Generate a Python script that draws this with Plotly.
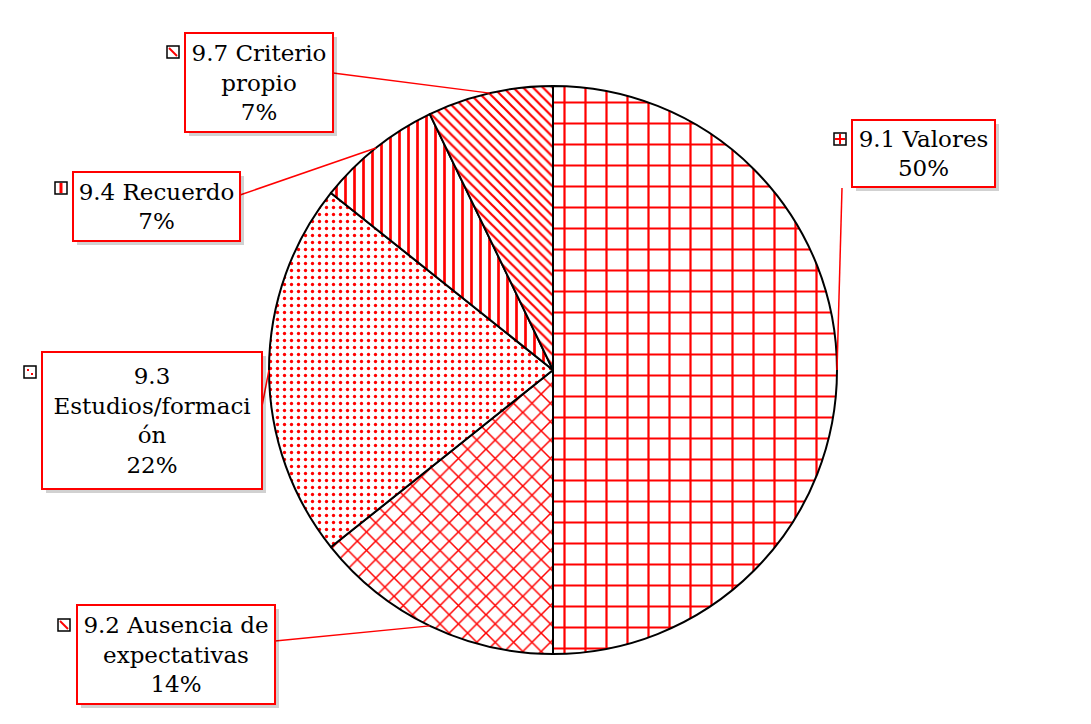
import math
import plotly.graph_objects as go

# ---- data ----
labels = ["9.1 Valores", "9.2 Ausencia de expectativas", "9.3 Estudios/formación",
          "9.4 Recuerdo", "9.7 Criterio propio"]
counts = [7, 2, 3, 1, 1]
label_texts = ["9.1 Valores<br>50%",
               "9.2 Ausencia de<br>expectativas<br>14%",
               "9.3<br>Estudios/formaci<br>ón<br>22%",
               "9.4 Recuerdo<br>7%",
               "9.7 Criterio<br>propio<br>7%"]
patterns = ["+", "x", ".", "|", "\\"]
pattern_sizes = [21, 13, 7, 9, 7]
pattern_solidity = [0.2, 0.22, 0.18, 0.3, 0.32]

# ---- layout geometry (pixels, page coordinates) ----
W, H = 1091, 724
OFF = 8  # default page body margin
CX, CY, R = 553, 370, 284

def px(x):
    return (x - OFF) / W

def py(y):
    return 1 - (y - OFF) / H

# label boxes: (x0, y0, x1, y1)
boxes = [(852, 120, 995, 187), (77, 605, 275, 704), (42, 352, 262, 489),
         (73, 172, 240, 241), (185, 33, 333, 132)]
keys = [(840, 139), (64, 625), (30, 372), (61, 188), (173, 52)]
leader_starts = [(842, 188), (275, 641), (262, 406), (240, 195), (333, 73)]

fig = go.Figure()
fig.add_trace(go.Pie(
    labels=labels, values=counts, sort=False, direction="clockwise", rotation=0,
    textinfo="none", hoverinfo="label+percent", showlegend=False,
    domain=dict(x=[px(CX - R), px(CX + R)], y=[py(CY + R), py(CY - R)]),
    marker=dict(colors=["white"] * 5,
                line=dict(color="black", width=2),
                pattern=dict(shape=patterns, fgcolor="#ff0000", bgcolor="white",
                             fgopacity=1, size=pattern_sizes,
                             solidity=pattern_solidity, fillmode="overlay")),
))

shapes = []
annotations = []
total = sum(counts)
cum = 0
font = dict(family="DejaVu Serif", size=23, color="black")
for i, c in enumerate(counts):
    mid = (cum + c / 2) / total * 2 * math.pi
    cum += c
    ex = CX + R * math.sin(mid)
    ey = CY - R * math.cos(mid)
    sx, sy = leader_starts[i]
    shapes.append(dict(type="line", xref="paper", yref="paper",
                       x0=px(sx), y0=py(sy), x1=px(ex), y1=py(ey),
                       line=dict(color="#ff0000", width=1.5), layer="above"))
    x0, y0, x1, y1 = boxes[i]
    # soft shadow
    shapes.append(dict(type="rect", xref="paper", yref="paper",
                       x0=px(x0 + 4), y0=py(y1 + 4), x1=px(x1 + 4), y1=py(y0 + 4),
                       fillcolor="rgba(0,0,0,0.18)", line=dict(width=0), layer="above"))
    annotations.append(dict(xref="paper", yref="paper",
                            x=px((x0 + x1) / 2), y=py((y0 + y1) / 2),
                            xanchor="center", yanchor="middle", showarrow=False,
                            text=label_texts[i], font=font, align="center",
                            width=x1 - x0 - 2, height=y1 - y0 - 2, borderpad=0,
                            bordercolor="#ff0000", borderwidth=2, bgcolor="white"))
    kx, ky = keys[i]
    shapes.append(dict(type="rect", xref="paper", yref="paper",
                       x0=px(kx - 6), y0=py(ky + 6), x1=px(kx + 6), y1=py(ky - 6),
                       fillcolor="white", line=dict(color="black", width=1.5), layer="above"))
    red = dict(color="#ff0000", width=2)
    if patterns[i] == "+":
        shapes.append(dict(type="line", xref="paper", yref="paper", x0=px(kx), y0=py(ky + 5),
                           x1=px(kx), y1=py(ky - 5), line=red, layer="above"))
        shapes.append(dict(type="line", xref="paper", yref="paper", x0=px(kx - 5), y0=py(ky),
                           x1=px(kx + 5), y1=py(ky), line=red, layer="above"))
    elif patterns[i] == "|":
        shapes.append(dict(type="line", xref="paper", yref="paper", x0=px(kx), y0=py(ky + 5),
                           x1=px(kx), y1=py(ky - 5), line=dict(color="#ff0000", width=3), layer="above"))
    elif patterns[i] == ".":
        for dx, dy in [(-2, -2), (2, 2)]:
            shapes.append(dict(type="rect", xref="paper", yref="paper",
                               x0=px(kx + dx - 1), y0=py(ky + dy + 1), x1=px(kx + dx + 1), y1=py(ky + dy - 1),
                               fillcolor="#ff0000", line=dict(width=0), layer="above"))
    else:
        shapes.append(dict(type="line", xref="paper", yref="paper", x0=px(kx - 4), y0=py(ky - 4),
                           x1=px(kx + 4), y1=py(ky + 4), line=red, layer="above"))

fig.update_layout(width=W, height=H, margin=dict(l=0, r=0, t=0, b=0),
                  paper_bgcolor="white", plot_bgcolor="white",
                  shapes=shapes, annotations=annotations)
fig.write_html("out.html")
